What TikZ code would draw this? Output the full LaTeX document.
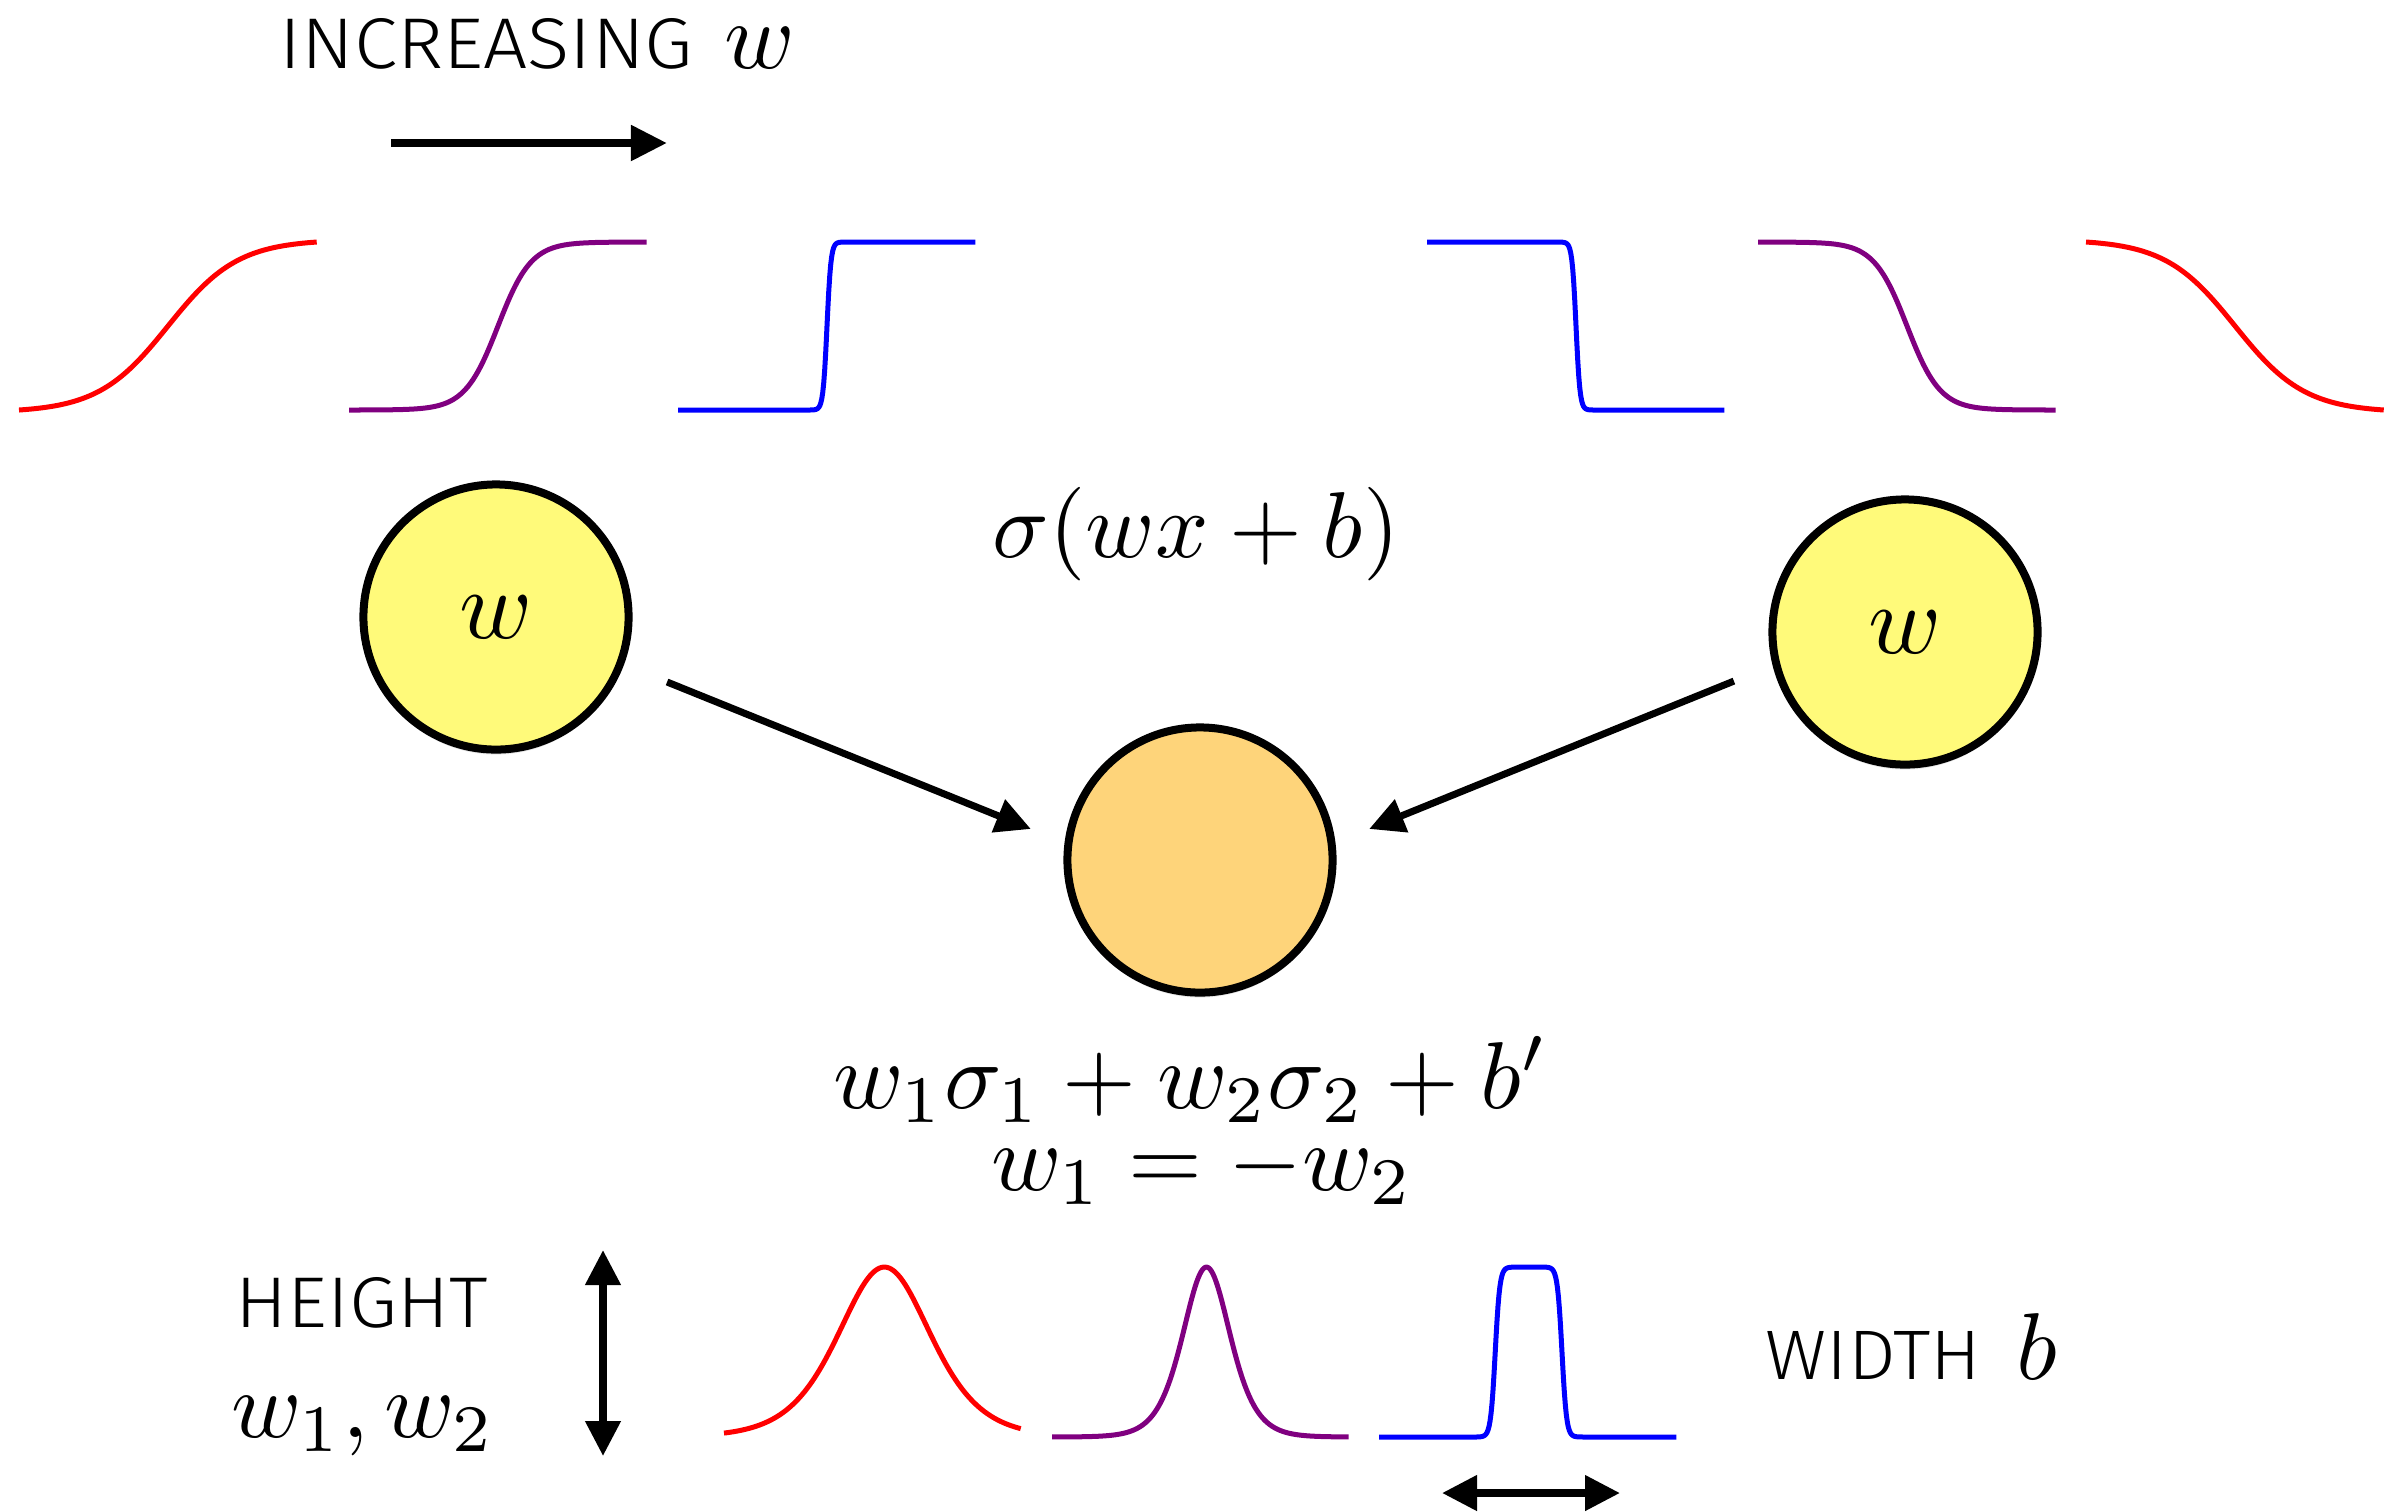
\documentclass[tikz,border=0pt]{standalone}
\usepackage{graphicx}
\usepackage[no-math]{fontspec}
\newfontfamily\thinfont{Fira Sans Light}
\usetikzlibrary{arrows.meta,shadows,calc}
\definecolor{nodeyellow}{RGB}{255,250,122}
\definecolor{nodeorange}{RGB}{254,212,122}
\definecolor{curvepurple}{RGB}{128,0,128}
\newcommand{\bigmath}[2][2.7]{\scalebox{#1}{$#2$}}
\newcommand{\captext}[3]{\resizebox{#1}{#2}{\thinfont #3}}
\begin{document}
\begin{tikzpicture}[x=0.01cm,y=-0.01cm,
  declare function={
    sig(\pu)=1/(1+exp(-max(-9,min(9,\pu))));
    nsig(\pt,\pk)=(sig(\pk*(\pt-0.5))-sig(-\pk/2))/(sig(\pk/2)-sig(-\pk/2));
    bump(\pt,\pc,\pa)=1/(cosh(\pa*(\pt-\pc))^2);
    plateau(\pt,\pl,\pr,\pk)=sig(\pk*(\pt-\pl))-sig(\pk*(\pt-\pr));
  },
  neuron/.style={circle, draw=black, line width=0.08cm, minimum size=2.65cm, inner sep=0pt,
    drop shadow={opacity=0.18, shadow xshift=0cm, shadow yshift=-0.05cm}},
  lbl/.style={inner sep=0pt},
  conn/.style={line width=0.07cm, -{Triangle[length=0.35cm,width=0.34cm]}},
  dbl/.style={line width=0.075cm, {Triangle[length=0.35cm,width=0.34cm]}-{Triangle[length=0.35cm,width=0.34cm]}},
  crv/.style={line width=0.05cm, line join=round},
]
\useasboundingbox (0,0) rectangle (2394,1511);

% top label and arrow
\node[lbl, anchor=base west] (inc) at (279,68) {\captext{4.13cm}{0.50cm}{INCREASING}};
\node[lbl, anchor=base west] (incw) at (724,68) {\bigmath{w}};
\coordinate (a1) at (391,143);
\coordinate (a2) at (667,143);
\draw[line width=0.08cm, -{Triangle[length=0.36cm,width=0.34cm]}] (a1) -- (a2);

% top row sigmoids
\draw[red, crv] plot[domain=0:1, samples=200] ({19+298*\x}, {410-168*nsig(\x,8.5)});
\draw[curvepurple, crv] plot[domain=0:1, samples=200] ({349+298*\x}, {410-168*nsig(\x,18)});
\draw[blue, crv] plot[domain=0:1, samples=301] ({678+298*\x}, {410-168*nsig(\x,150)});
\draw[blue, crv] plot[domain=0:1, samples=301] ({1427+298*\x}, {410-168*nsig(1-\x,150)});
\draw[curvepurple, crv] plot[domain=0:1, samples=200] ({1758+298*\x}, {410-168*nsig(1-\x,18)});
\draw[red, crv] plot[domain=0:1, samples=200] ({2086+298*\x}, {410-168*nsig(1-\x,8.5)});

% formula
\node[lbl, anchor=base] (sigf) at (1196,557) {\bigmath[2.66]{\sigma(wx+b)}};

% neurons
\node[neuron, fill=nodeyellow] (L) at (496,617) {\bigmath[2.8]{w}};
\node[neuron, fill=nodeyellow] (R) at (1905,632) {\bigmath[2.8]{w}};
\node[neuron, fill=nodeorange] (O) at (1200,860) {};

\draw[conn] ($(L.center)+(20.8:183)$) -- ($(O.center)+(190.4:172)$);
\draw[conn] ($(R.center)+(164:178)$) -- ($(O.center)+(-10.4:172)$);

% output equations
\node[lbl, anchor=base] (eq1) at (1191,1108) {\bigmath{w_1\sigma_1+w_2\sigma_2+b'}};
\node[lbl, anchor=base] (eq2) at (1202,1190) {\bigmath{w_1=-w_2}};

% bottom row
\node[lbl, anchor=base west] (hgt) at (235,1327) {\captext{2.52cm}{0.50cm}{HEIGHT}};
\node[lbl, anchor=base west] (hw) at (231,1437) {\bigmath{w_1,w_2}};
\coordinate (h1) at (603,1250);
\coordinate (h2) at (603,1456);
\draw[dbl] (h1) -- (h2);

\draw[red, crv] plot[domain=0:1, samples=200] ({724+297*\x}, {1437-170*bump(\x,0.54,4.76)});
\draw[curvepurple, crv] plot[domain=0:1, samples=200] ({1052+297*\x}, {1437-170*bump(\x,0.52,9.3)});
\draw[blue, crv] plot[domain=0:1, samples=301] ({1379+298*\x}, {1437-170*plateau(\x,0.39,0.614,130)});

\coordinate (b1) at (1442,1493);
\coordinate (b2) at (1620,1493);
\draw[dbl] (b1) -- (b2);

\node[lbl, anchor=base west] (wid) at (1765,1379) {\captext{2.15cm}{0.48cm}{WIDTH}};
\node[lbl, anchor=base west] (wb) at (2016,1379) {\bigmath{b}};
\end{tikzpicture}
\end{document}
